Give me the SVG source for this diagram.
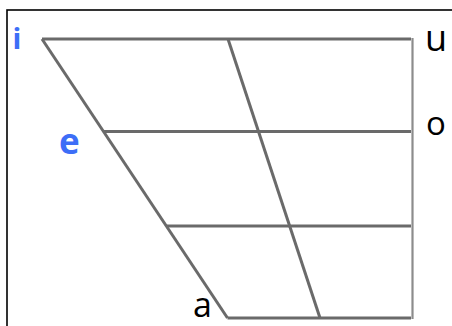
<svg xmlns="http://www.w3.org/2000/svg" width="452" height="326" viewBox="0 0 452 326">
<style>
.ln{stroke:#6a6a6a;stroke-width:3;fill:none;stroke-linecap:butt}
.rt{stroke:#8c8c8c;stroke-width:2.2;fill:none}
.lb{font-family:"Open Sans","DejaVu Sans",sans-serif}
.blue{fill:#3d6ef7;font-weight:700}
.blk{fill:#000;font-weight:500}
</style>
<rect x="7" y="10" width="460" height="330" fill="#fff" stroke="#000" stroke-width="1.6"/>
<g id="connectors">
<line class="ln" x1="42" y1="39" x2="411" y2="39"/>
<line class="ln" x1="103.3" y1="131.5" x2="411" y2="131.5"/>
<line class="ln" x1="166.7" y1="226" x2="411" y2="226"/>
<line class="ln" x1="227.5" y1="318" x2="411" y2="318"/>
<line class="ln" x1="42" y1="39" x2="227.5" y2="318"/>
<line class="ln" x1="228" y1="39" x2="320" y2="318"/>
<line class="rt" x1="412.5" y1="38" x2="412.5" y2="319"/>
</g>
<g id="i"><text class="lb blue" x="12.5" y="48.5" font-size="29">i</text></g>
<g id="e"><text class="lb blue" x="59" y="153.5" font-size="35">e</text></g>
<g id="u"><text class="lb blk" x="425" y="51" font-size="36">u</text></g>
<g id="o"><text class="lb blk" x="426" y="135" font-size="33">o</text></g>
<g id="a"><text class="lb blk" x="193" y="317" font-size="34">a</text></g>
</svg>
